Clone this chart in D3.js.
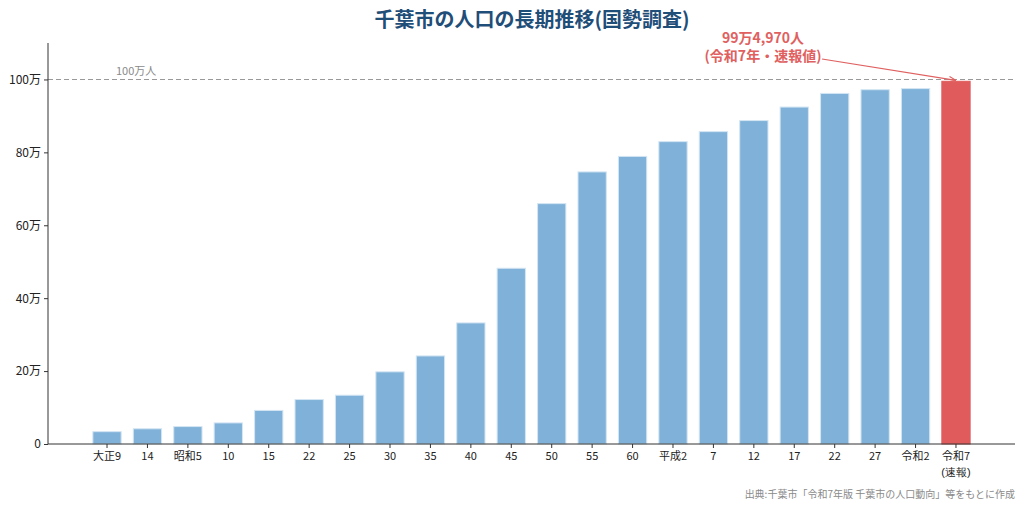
<!DOCTYPE html>
<html>
<head>
<meta charset="utf-8">
<script src="https://cdn.jsdelivr.net/npm/d3@7"></script>
<style>
  html, body { margin: 0; padding: 0; background: #fff; }
  svg { display: block; font-family: "Noto Sans CJK JP", "Noto Sans", sans-serif; }
</style>
</head>
<body>
<svg id="chart" width="1024" height="508"></svg>
<script>
const categories = ["大正9","14","昭和5","10","15","22","25","30","35","40","45","50","55","60","平成2","7","12","17","22","27","令和2","令和7"];
const subLabels = ["","","","","","","","","","","","","","","","","","","","","","(速報)"];
const population = [33900, 41800, 47800, 57900, 92100, 122000, 133800, 198000, 241600, 332200, 482100, 659400, 746400, 788900, 829500, 856900, 887200, 924300, 961700, 971900, 975000, 994970];
const yTicks = [0, 200000, 400000, 600000, 800000, 1000000];
const yTickLabels = ["0", "20万", "40万", "60万", "80万", "100万"];
const titleText = "千葉市の人口の長期推移(国勢調査)";
const refValue = 1000000;
const refLabel = "100万人";
const annotationLines = ["99万4,970人", "(令和7年・速報値)"];
const sourceText = "出典:千葉市「令和7年版 千葉市の人口動向」等をもとに作成";

(function () {
const svg = d3.select("#chart");
const mL = 48, mR = 1015, mT = 43, mB = 444;

const x = d3.scaleBand().domain(d3.range(categories.length)).range([mL, mR]).paddingInner(0.3).paddingOuter(1.11);
const y = d3.scaleLinear().domain([0, 1100000]).range([mB, mT]);

// title
svg.append("text").attr("x", 532).attr("y", 27).attr("text-anchor", "middle")
  .attr("font-size", 20).attr("font-weight", "bold").attr("fill", "#1f4e79").text(titleText);

// reference line
svg.append("line").attr("x1", mL).attr("x2", mR).attr("y1", y(refValue)).attr("y2", y(refValue))
  .attr("stroke", "#999").attr("stroke-width", 1.1).attr("stroke-dasharray", "5,3");
svg.append("text").attr("x", 116).attr("y", y(refValue) - 4).attr("font-size", 11).attr("fill", "#8a8a8a").text(refLabel);

// bars
const last = population.length - 1;
svg.append("g").selectAll("rect").data(population).join("rect")
  .attr("x", (d, i) => x(i))
  .attr("width", x.bandwidth())
  .attr("y", d => y(d))
  .attr("height", d => y(0) - y(d))
  .attr("fill", (d, i) => i === last ? "#e05c5c" : "#80b2d9")
  .attr("stroke", (d, i) => i === last ? "#e05c5c" : "#d4e5f3")
  .attr("stroke-width", 1);

// y axis
const yAxis = d3.axisLeft(y).tickValues(yTicks).tickFormat((d, i) => yTickLabels[i]).tickSize(4).tickPadding(3);
const gy = svg.append("g").attr("transform", `translate(${mL},0)`).call(yAxis);
gy.select(".domain").attr("d", `M0,${mT}V${mB}`).attr("stroke", "#333").attr("stroke-width", 1);
gy.selectAll(".tick line").attr("stroke", "#333");
gy.selectAll(".tick text").attr("font-size", 12).attr("fill", "#222").attr("font-family", "'Noto Sans CJK JP', sans-serif");

// x axis
const xAxis = d3.axisBottom(x).tickFormat(i => categories[i]).tickSize(4).tickPadding(4);
const gx = svg.append("g").attr("transform", `translate(0,${mB})`).call(xAxis);
gx.select(".domain").attr("d", `M${mL},0H${mR}`).attr("stroke", "#333").attr("stroke-width", 1);
gx.selectAll(".tick line").attr("stroke", "#333");
gx.selectAll(".tick text").attr("font-size", 11).attr("fill", "#222").attr("font-family", "'Noto Sans CJK JP', sans-serif");
gx.selectAll(".tick").each(function (d) {
  if (subLabels[d]) {
    d3.select(this).append("text").attr("y", 24).attr("dy", "0.71em").attr("fill", "#222")
      .attr("font-size", 11).attr("text-anchor", "middle").text(subLabels[d]);
  }
});

// annotation
const ann = svg.append("text").attr("text-anchor", "middle").attr("font-size", 14).attr("font-weight", "bold").attr("fill", "#e06060");
annotationLines.forEach((t, i) => ann.append("tspan").attr("x", 763).attr("y", 43 + i * 18).text(t));
const defs = svg.append("defs");
defs.append("marker").attr("id", "arr").attr("viewBox", "0 0 10 10").attr("refX", 10).attr("refY", 5)
  .attr("markerWidth", 7).attr("markerHeight", 7).attr("orient", "auto").attr("markerUnits", "userSpaceOnUse")
  .append("path").attr("d", "M0,1 L10,5 L0,9").attr("fill", "none").attr("stroke", "#e06060").attr("stroke-width", 1.5);
const tipX = x(last) + x.bandwidth() / 2;
const tipY = y(population[last]) - 1;
svg.append("line").attr("x1", 822).attr("y1", 59).attr("x2", tipX).attr("y2", tipY)
  .attr("stroke", "#e06060").attr("stroke-width", 1.2).attr("marker-end", "url(#arr)");

// source
svg.append("text").attr("x", mR).attr("y", 498).attr("text-anchor", "end").attr("font-size", 10)
  .attr("fill", "#8a8a8a").text(sourceText);
})();
</script>
</body>
</html>
